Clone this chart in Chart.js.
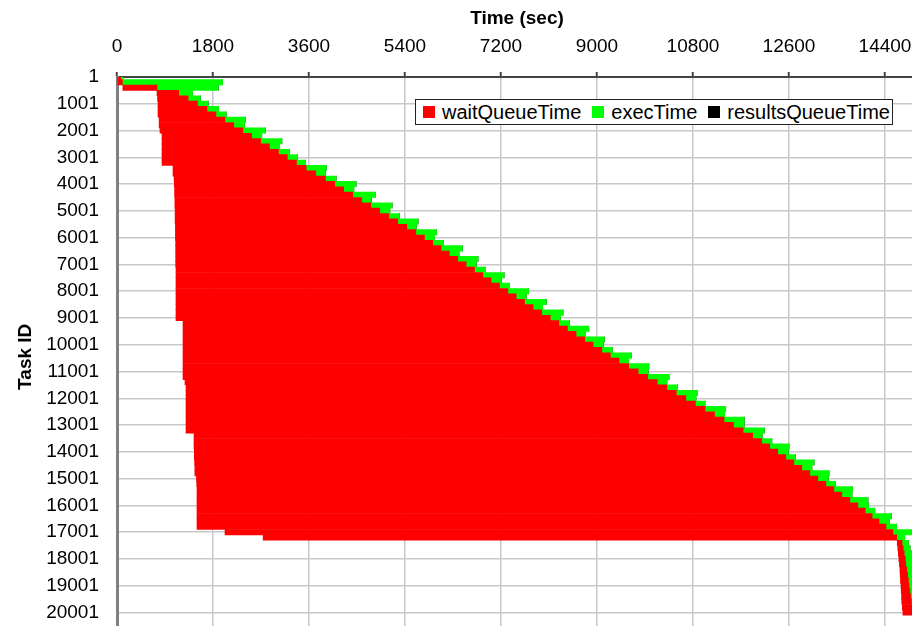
<!DOCTYPE html>
<html>
<head>
<meta charset="utf-8">
<script src="https://cdn.jsdelivr.net/npm/chart.js@4/dist/chart.umd.min.js"></script>
<style>
  html, body { margin: 0; padding: 0; background: #fff; overflow: hidden; }
  #wrap { position: relative; width: 930px; height: 666px; }
  #legend {
    position: absolute; left: 415px; top: 99px; width: 469px; height: 24px;
    border: 1px solid #222; background: #fff;
    display: flex; align-items: center; padding-left: 7px; box-sizing: content-box;
    font-family: "Liberation Sans", Arial, sans-serif; font-size: 20px; color: #000;
  }
  #legend .item { display: flex; align-items: center; margin-right: 11px; white-space: nowrap; }
  #legend .box { width: 12px; height: 12px; margin-right: 7px; }
</style>
</head>
<body>
<div id="wrap">
  <canvas id="taskChart" width="930" height="666"></canvas>
  <div id="legend"></div>
</div>
<script>
// task ids sampled every 200 tasks
const taskIds = [
  1, 201, 401, 601, 801, 1001, 1201, 1401, 1601, 1801,
  2001, 2201, 2401, 2601, 2801, 3001, 3201, 3401, 3601, 3801,
  4001, 4201, 4401, 4601, 4801, 5001, 5201, 5401, 5601, 5801,
  6001, 6201, 6401, 6601, 6801, 7001, 7201, 7401, 7601, 7801,
  8001, 8201, 8401, 8601, 8801, 9001, 9201, 9401, 9601, 9801,
  10001, 10201, 10401, 10601, 10801, 11001, 11201, 11401, 11601, 11801,
  12001, 12201, 12401, 12601, 12801, 13001, 13201, 13401, 13601, 13801,
  14001, 14201, 14401, 14601, 14801, 15001, 15201, 15401, 15601, 15801,
  16001, 16201, 16401, 16601, 16801, 17001, 17201, 17401, 17601, 17801,
  18001, 18201, 18401, 18601, 18801, 19001, 19201, 19401, 19601, 19801,
  20001
];

// seconds from start until the task was submitted (invisible part of bar)
const submitTime = [
  0, 0, 110, 750, 760, 769, 769, 769, 790, 790,
  806, 844, 844, 844, 844, 844, 844, 1050, 1050, 1070,
  1075, 1080, 1080, 1085, 1085, 1090, 1090, 1090, 1095, 1095,
  1095, 1100, 1100, 1100, 1100, 1100, 1106, 1106, 1106, 1106,
  1106, 1106, 1106, 1106, 1106, 1106, 1238, 1238, 1238, 1238,
  1238, 1238, 1238, 1238, 1238, 1238, 1238, 1275, 1294, 1294,
  1294, 1294, 1294, 1294, 1294, 1294, 1294, 1444, 1444, 1444,
  1450, 1450, 1455, 1460, 1460, 1490, 1495, 1500, 1500, 1500,
  1500, 1500, 1500, 1500, 1500, 2025, 2740, 14630, 14640, 14650,
  14660, 14670, 14680, 14685, 14690, 14700, 14705, 14710, 14715, 14725,
  14735
];

const waitQueueTime = [
  70, 100, 640, 407, 573, 741, 917, 1087, 1233, 1400,
  1552, 1681, 1848, 2015, 2182, 2350, 2521, 2496, 2678, 2839,
  3007, 3171, 3340, 3504, 3673, 3837, 4006, 4175, 4339, 4508,
  4669, 4820, 4976, 5133, 5289, 5446, 5596, 5752, 5909, 6065,
  6222, 6378, 6535, 6696, 6857, 7018, 7047, 7208, 7369, 7530,
  7691, 7852, 8013, 8177, 8355, 8534, 8713, 8855, 9015, 9193,
  9372, 9551, 9730, 9909, 10087, 10266, 10445, 10474, 10645, 10795,
  10939, 11090, 11235, 11380, 11530, 11650, 11796, 11941, 12091, 12241,
  12391, 12528, 12658, 12788, 12918, 12523, 11880, 90, 100, 110,
  120, 120, 130, 140, 150, 150, 160, 170, 180, 190,
  200
];

const execTime = [
  40, 1880, 1150, 260, 230, 200, 220, 190, 380, 200,
  420, 190, 400, 180, 210, 190, 170, 380, 180, 200,
  400, 190, 420, 180, 400, 190, 200, 380, 180, 390,
  190, 200, 400, 180, 380, 190, 200, 400, 190, 180,
  390, 190, 410, 180, 400, 190, 200, 400, 180, 370,
  190, 200, 390, 180, 380, 190, 400, 180, 200, 400,
  190, 180, 390, 190, 380, 200, 400, 180, 190, 360,
  200, 180, 380, 190, 360, 200, 180, 350, 190, 340,
  200, 180, 360, 190, 200, 380, 150, 120, 130, 140,
  140, 150, 140, 150, 140, 150, 150, 150, 140, 120,
  100
];

const resultsQueueTime = [
  0, 0, 0, 0, 0, 0, 0, 0, 0, 0,
  0, 0, 0, 0, 0, 0, 0, 0, 0, 0,
  0, 0, 0, 0, 0, 0, 0, 0, 0, 0,
  0, 0, 0, 0, 0, 0, 0, 0, 0, 0,
  0, 0, 0, 0, 0, 0, 0, 0, 0, 0,
  0, 0, 0, 0, 0, 0, 0, 0, 0, 0,
  0, 0, 0, 0, 0, 0, 0, 0, 0, 0,
  0, 0, 0, 0, 0, 0, 0, 0, 0, 0,
  0, 0, 0, 0, 0, 0, 0, 0, 0, 0,
  0, 0, 0, 0, 0, 0, 0, 0, 0, 0,
  0
];

const xTicks = [0, 1800, 3600, 5400, 7200, 9000, 10800, 12600, 14400];
const yTicks = [1, 1001, 2001, 3001, 4001, 5001, 6001, 7001, 8001, 9001, 10001,
  11001, 12001, 13001, 14001, 15001, 16001, 17001, 18001, 19001, 20001];

const FONT = '"Liberation Sans", Arial, sans-serif';

function series(values) {
  return values.map((v, i) => ({ y: taskIds[i], x: v }));
}

const datasets = [
  { label: 'submitTime', data: series(submitTime), backgroundColor: 'rgba(0,0,0,0)', legend: false },
  { label: 'waitQueueTime', data: series(waitQueueTime), backgroundColor: '#ff0000' },
  { label: 'execTime', data: series(execTime), backgroundColor: '#00ff00' },
  { label: 'resultsQueueTime', data: series(resultsQueueTime), backgroundColor: '#000000' }
];
datasets.forEach(d => {
  d.barPercentage = 1;
  d.categoryPercentage = 1;
  d.borderWidth = 0;
});

const chart = new Chart(document.getElementById('taskChart'), {
  type: 'bar',
  data: { datasets },
  options: {
    indexAxis: 'y',
    responsive: false,
    animation: false,
    devicePixelRatio: 1,
    layout: { padding: { left: 0, top: 0, right: 13, bottom: 4 } },
    plugins: { legend: { display: false }, tooltip: { enabled: false } },
    scales: {
      x: {
        type: 'linear',
        position: 'top',
        stacked: true,
        min: 0,
        max: 15000,
        afterBuildTicks: s => { s.ticks = xTicks.map(v => ({ value: v })); },
        afterFit: s => { s.height = 77; },
        ticks: {
          color: '#000',
          padding: 14,
          maxRotation: 0,
          autoSkip: false,
          font: { family: FONT, size: 19 },
          callback: v => String(v)
        },
        grid: { color: '#c8c8c8', lineWidth: 1.5, tickLength: 5, tickColor: '#444', tickWidth: 2 },
        border: { color: '#444', width: 2 },
        title: {
          display: true,
          text: 'Time (sec)',
          color: '#000',
          font: { family: FONT, size: 19, weight: 'bold', lineHeight: 1.2 },
          padding: { top: 7, bottom: 0 }
        }
      },
      y: {
        type: 'linear',
        reverse: true,
        stacked: true,
        offset: false,
        min: 1,
        max: 20900,
        afterBuildTicks: s => { s.ticks = yTicks.map(v => ({ value: v })); },
        afterFit: s => { s.width = 117; },
        ticks: {
          color: '#000',
          padding: 18,
          autoSkip: false,
          font: { family: FONT, size: 19 },
          callback: v => String(v)
        },
        grid: { color: '#c8c8c8', lineWidth: 1.5, drawTicks: false, offset: false },
        border: { color: '#808080', width: 3 },
        title: {
          display: true,
          text: 'Task ID',
          color: '#000',
          font: { family: FONT, size: 19, weight: 'bold', lineHeight: 1.2 },
          padding: { top: 14, bottom: 0 }
        }
      }
    }
  }
});

// legend box inside the plot, built from the chart's datasets
const legendEl = document.getElementById('legend');
chart.data.datasets.filter(d => d.legend !== false).forEach(d => {
  const item = document.createElement('div');
  item.className = 'item';
  item.innerHTML = '<span class="box" style="background:' + d.backgroundColor + '"></span><span>' + d.label + '</span>';
  legendEl.appendChild(item);
});
</script>
</body>
</html>
